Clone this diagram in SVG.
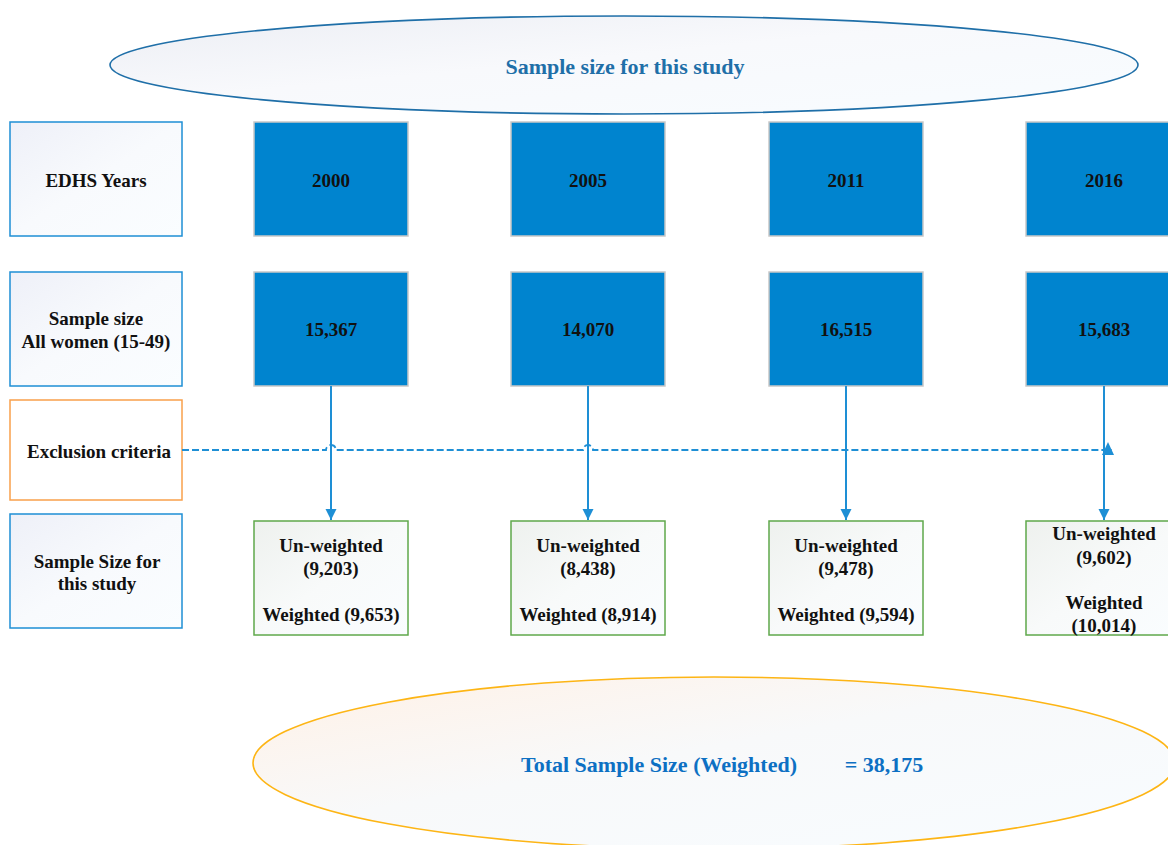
<svg xmlns="http://www.w3.org/2000/svg" width="1168" height="845" viewBox="0 0 1168 845">
<style>
text{font-family:"Liberation Serif","Times New Roman",serif;font-weight:bold;text-anchor:middle;dominant-baseline:central}
.lbl{font-size:19px;fill:#111}
.lab{fill:url(#gb);stroke:#1E8FD5;stroke-width:1.5}
.yr{fill:#0084CF;stroke:#C8C8C8;stroke-width:1.5}
.res{fill:url(#gg);stroke:#5FA84B;stroke-width:1.5}
.arr{stroke:#1E8FD5;stroke-width:2;fill:none}
</style>
<defs>
<linearGradient id="gb" x1="0" y1="0" x2="1" y2="1"><stop offset="0" stop-color="#EEF0F8"/><stop offset="0.5" stop-color="#F8FAFD"/><stop offset="1" stop-color="#FAFDFF"/></linearGradient>
<linearGradient id="gg" x1="0" y1="0" x2="1" y2="1"><stop offset="0" stop-color="#EEF1EE"/><stop offset="0.5" stop-color="#F8FAFA"/><stop offset="1" stop-color="#FAFDFF"/></linearGradient>
<linearGradient id="ge" x1="0" y1="0" x2="1" y2="1"><stop offset="0" stop-color="#ECEEF4"/><stop offset="0.45" stop-color="#F8F9FC"/><stop offset="1" stop-color="#F8FCFF"/></linearGradient>
<linearGradient id="go" x1="0" y1="0" x2="1" y2="1"><stop offset="0" stop-color="#FFF1E6"/><stop offset="0.45" stop-color="#F8F9FA"/><stop offset="1" stop-color="#F8FCFF"/></linearGradient>
<marker id="ah" viewBox="0 0 10 10" refX="10" refY="5" markerWidth="11" markerHeight="12" markerUnits="userSpaceOnUse" orient="auto"><path d="M0,0 L10,5 L0,10 z" fill="#1E8FD5"/></marker>
</defs>

<g id="title">
<ellipse cx="624" cy="65" rx="514" ry="49" fill="url(#ge)" stroke="#1F6FA8" stroke-width="1.6"/>
<text x="625" y="66" font-size="22" fill="#1F6FA8">Sample size for this study</text>
</g>

<g id="lab-years"><rect class="lab" x="10" y="122" width="172" height="114"/><text class="lbl" x="96" y="180">EDHS Years</text></g>
<g id="lab-sample"><rect class="lab" x="10" y="272" width="172" height="114"/><text class="lbl" x="96" y="318">Sample size</text><text class="lbl" x="96" y="341">All women (15-49)</text></g>
<g id="lab-excl"><rect x="10" y="400" width="172" height="100" fill="#fff" stroke="#F9A04B" stroke-width="1.5"/><text class="lbl" x="99" y="451">Exclusion criteria</text></g>
<g id="lab-study"><rect class="lab" x="10" y="514" width="172" height="114"/><text class="lbl" x="97" y="561">Sample Size for</text><text class="lbl" x="97" y="583">this study</text></g>

<g id="y2000"><rect class="yr" x="254" y="122" width="154" height="114"/><text class="lbl" x="331" y="180">2000</text></g>
<g id="y2005"><rect class="yr" x="511" y="122" width="154" height="114"/><text class="lbl" x="588" y="180">2005</text></g>
<g id="y2011"><rect class="yr" x="769" y="122" width="154" height="114"/><text class="lbl" x="846" y="180">2011</text></g>
<g id="y2016"><rect class="yr" x="1026" y="122" width="160" height="114"/><text class="lbl" x="1104" y="180">2016</text></g>

<g id="n2000"><rect class="yr" x="254" y="272" width="154" height="114"/><text class="lbl" x="331" y="329">15,367</text></g>
<g id="n2005"><rect class="yr" x="511" y="272" width="154" height="114"/><text class="lbl" x="588" y="329">14,070</text></g>
<g id="n2011"><rect class="yr" x="769" y="272" width="154" height="114"/><text class="lbl" x="846" y="329">16,515</text></g>
<g id="n2016"><rect class="yr" x="1026" y="272" width="160" height="114"/><text class="lbl" x="1104" y="329">15,683</text></g>

<g id="r2000"><rect class="res" x="254" y="521" width="154" height="114"/><text class="lbl" x="331" y="545">Un-weighted</text><text class="lbl" x="331" y="568">(9,203)</text><text class="lbl" x="331" y="614">Weighted (9,653)</text></g>
<g id="r2005"><rect class="res" x="511" y="521" width="154" height="114"/><text class="lbl" x="588" y="545">Un-weighted</text><text class="lbl" x="588" y="568">(8,438)</text><text class="lbl" x="588" y="614">Weighted (8,914)</text></g>
<g id="r2011"><rect class="res" x="769" y="521" width="154" height="114"/><text class="lbl" x="846" y="545">Un-weighted</text><text class="lbl" x="846" y="568">(9,478)</text><text class="lbl" x="846" y="614">Weighted (9,594)</text></g>
<g id="r2016"><rect class="res" x="1026" y="521" width="160" height="114"/><text class="lbl" x="1104" y="533">Un-weighted</text><text class="lbl" x="1104" y="557">(9,602)</text><text class="lbl" x="1104" y="602">Weighted</text><text class="lbl" x="1104" y="625">(10,014)</text></g>

<g id="connectors">
<line class="arr" x1="331" y1="386" x2="331" y2="520" marker-end="url(#ah)"/>
<line class="arr" x1="588" y1="386" x2="588" y2="520" marker-end="url(#ah)"/>
<line class="arr" x1="846" y1="386" x2="846" y2="520" marker-end="url(#ah)"/>
<line class="arr" x1="1104" y1="386" x2="1104" y2="520" marker-end="url(#ah)"/>
<path d="M182,450 H326 A5,5 0 0 1 336,450 H583 A5,5 0 0 1 593,450 H1112" fill="none" stroke="#1E8FD5" stroke-width="1.8" stroke-dasharray="7,3"/>
<line x1="846" y1="445" x2="846" y2="450" stroke="#1E8FD5" stroke-width="1.5"/>
<path d="M1102,455 L1108,442 L1114,455 z" fill="#1E8FD5"/>
</g>

<g id="total">
<ellipse cx="714" cy="763" rx="461" ry="86" fill="url(#go)" stroke="#FDB515" stroke-width="1.6"/>
<text x="659" y="764" font-size="22" fill="#0D70C3">Total Sample Size (Weighted)</text>
<text x="884" y="764" font-size="22" fill="#0D70C3">= 38,175</text>
</g>
</svg>
